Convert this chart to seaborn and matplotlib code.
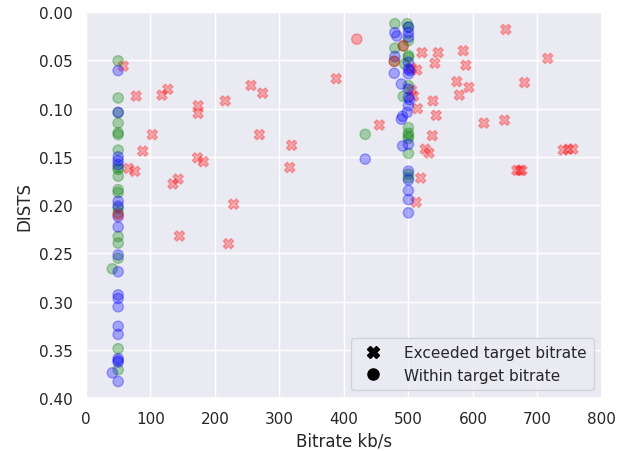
import pandas as pd
import matplotlib.pyplot as plt
import seaborn as sns
from matplotlib.lines import Line2D

# Exceeded target bitrate points (all in the red group)
exceeded_bitrate = [58, 78, 118, 127, 174, 174, 216, 256, 274, 103, 269, 319, 88, 66, 76, 173,
                    182, 316, 143, 135, 229, 145, 221, 388,
                    651, 521, 546, 585, 541, 589, 513, 505, 575, 594, 579, 680, 505, 508, 538, 514,
                    543, 455, 617, 649, 537, 526, 532, 668, 673, 676, 519, 512, 716, 740, 748, 755]
exceeded_dists = [0.056, 0.087, 0.086, 0.080, 0.097, 0.105, 0.092, 0.076, 0.084, 0.127, 0.127, 0.138,
                  0.144, 0.162, 0.165, 0.151, 0.155, 0.161, 0.173, 0.178, 0.199, 0.232, 0.240, 0.069,
                  0.018, 0.042, 0.042, 0.040, 0.053, 0.055, 0.060, 0.058, 0.072, 0.078, 0.086, 0.073,
                  0.081, 0.087, 0.092, 0.100, 0.107, 0.117, 0.115, 0.112, 0.128, 0.142, 0.146, 0.164,
                  0.164, 0.164, 0.172, 0.197, 0.048, 0.143, 0.142, 0.142]

# Within target bitrate points, per colour group
green_bitrate = [50, 50, 50, 50, 50, 50, 50, 50, 50, 50, 50, 50, 50, 50, 50, 50, 50, 50, 41, 50,
                 479, 498, 500, 500, 479, 500, 500, 494, 500, 492, 500, 500, 500, 500, 500, 500,
                 500, 433, 478, 492]
green_dists = [0.0505, 0.089, 0.115, 0.125, 0.127, 0.143, 0.161, 0.163, 0.170, 0.184, 0.187, 0.203,
               0.208, 0.2325, 0.2394, 0.255, 0.3488, 0.3706, 0.266, 0.104,
               0.012, 0.012, 0.0155, 0.0294, 0.0373, 0.045, 0.0467, 0.0536, 0.0762, 0.0873, 0.1196,
               0.1255, 0.1283, 0.131, 0.1464, 0.168, 0.1717, 0.1266, 0.051, 0.035]

blue_bitrate = [50, 50, 50, 50, 50, 50, 50, 50, 50, 50, 50, 50, 50, 50, 50, 50, 50, 50, 50, 41, 50,
                500, 500, 479, 482, 500, 479, 500, 500, 502, 478, 500, 489, 500, 500, 502, 500, 498,
                491, 489, 500, 491, 500, 500, 500, 500, 500, 433]
blue_dists = [0.0606, 0.104, 0.150, 0.154, 0.158, 0.196, 0.201, 0.212, 0.2227, 0.2516, 0.269, 0.293,
              0.2967, 0.3054, 0.3255, 0.334, 0.359, 0.361, 0.3627, 0.3738, 0.3828,
              0.0155, 0.0212, 0.0213, 0.0248, 0.0258, 0.046, 0.0519, 0.0589, 0.0606, 0.0634, 0.064,
              0.0745, 0.0797, 0.0884, 0.0908, 0.097, 0.104, 0.108, 0.111, 0.137, 0.1387, 0.1648,
              0.174, 0.1849, 0.1943, 0.208, 0.1523]

red_bitrate = [50, 420, 492, 478]
red_dists = [0.21, 0.028, 0.035, 0.051]

EXC = "Exceeded target bitrate"
WIT = "Within target bitrate"

# build one long table
parts = [
    pd.DataFrame({"bitrate": exceeded_bitrate, "dists": exceeded_dists, "group": "red", "status": EXC}),
    pd.DataFrame({"bitrate": green_bitrate, "dists": green_dists, "group": "green", "status": WIT}),
    pd.DataFrame({"bitrate": blue_bitrate, "dists": blue_dists, "group": "blue", "status": WIT}),
    pd.DataFrame({"bitrate": red_bitrate, "dists": red_dists, "group": "red", "status": WIT}),
]
df = pd.concat(parts, ignore_index=True)

sns.set_theme(style="darkgrid")
fig, ax = plt.subplots(figsize=(6.18, 4.52), dpi=100)
fig.subplots_adjust(left=0.139, right=0.974, top=0.971, bottom=0.117)

sns.scatterplot(data=df, x="bitrate", y="dists", hue="group", style="status",
                palette={"red": "red", "green": "green", "blue": "blue"},
                markers={EXC: "X", WIT: "o"}, alpha=0.3, s=55, edgecolor="face",
                linewidth=1.0, legend=False, ax=ax)

ax.set_xlim(0, 800)
ax.set_ylim(0.4, 0.0)
ax.set_yticks([0.0, 0.05, 0.1, 0.15, 0.2, 0.25, 0.3, 0.35, 0.4])
ax.set_yticklabels([f"{v:.2f}" for v in ax.get_yticks()])
ax.set_xlabel("Bitrate kb/s")
ax.set_ylabel("DISTS")

handles = [Line2D([], [], marker="X", color="black", linestyle="", markersize=8),
           Line2D([], [], marker="o", color="black", linestyle="", markersize=8)]
ax.legend(handles, [EXC, WIT], loc="lower right", borderpad=0.5, handletextpad=1.0,
          borderaxespad=0.5)

plt.savefig("out.png", dpi=100)
